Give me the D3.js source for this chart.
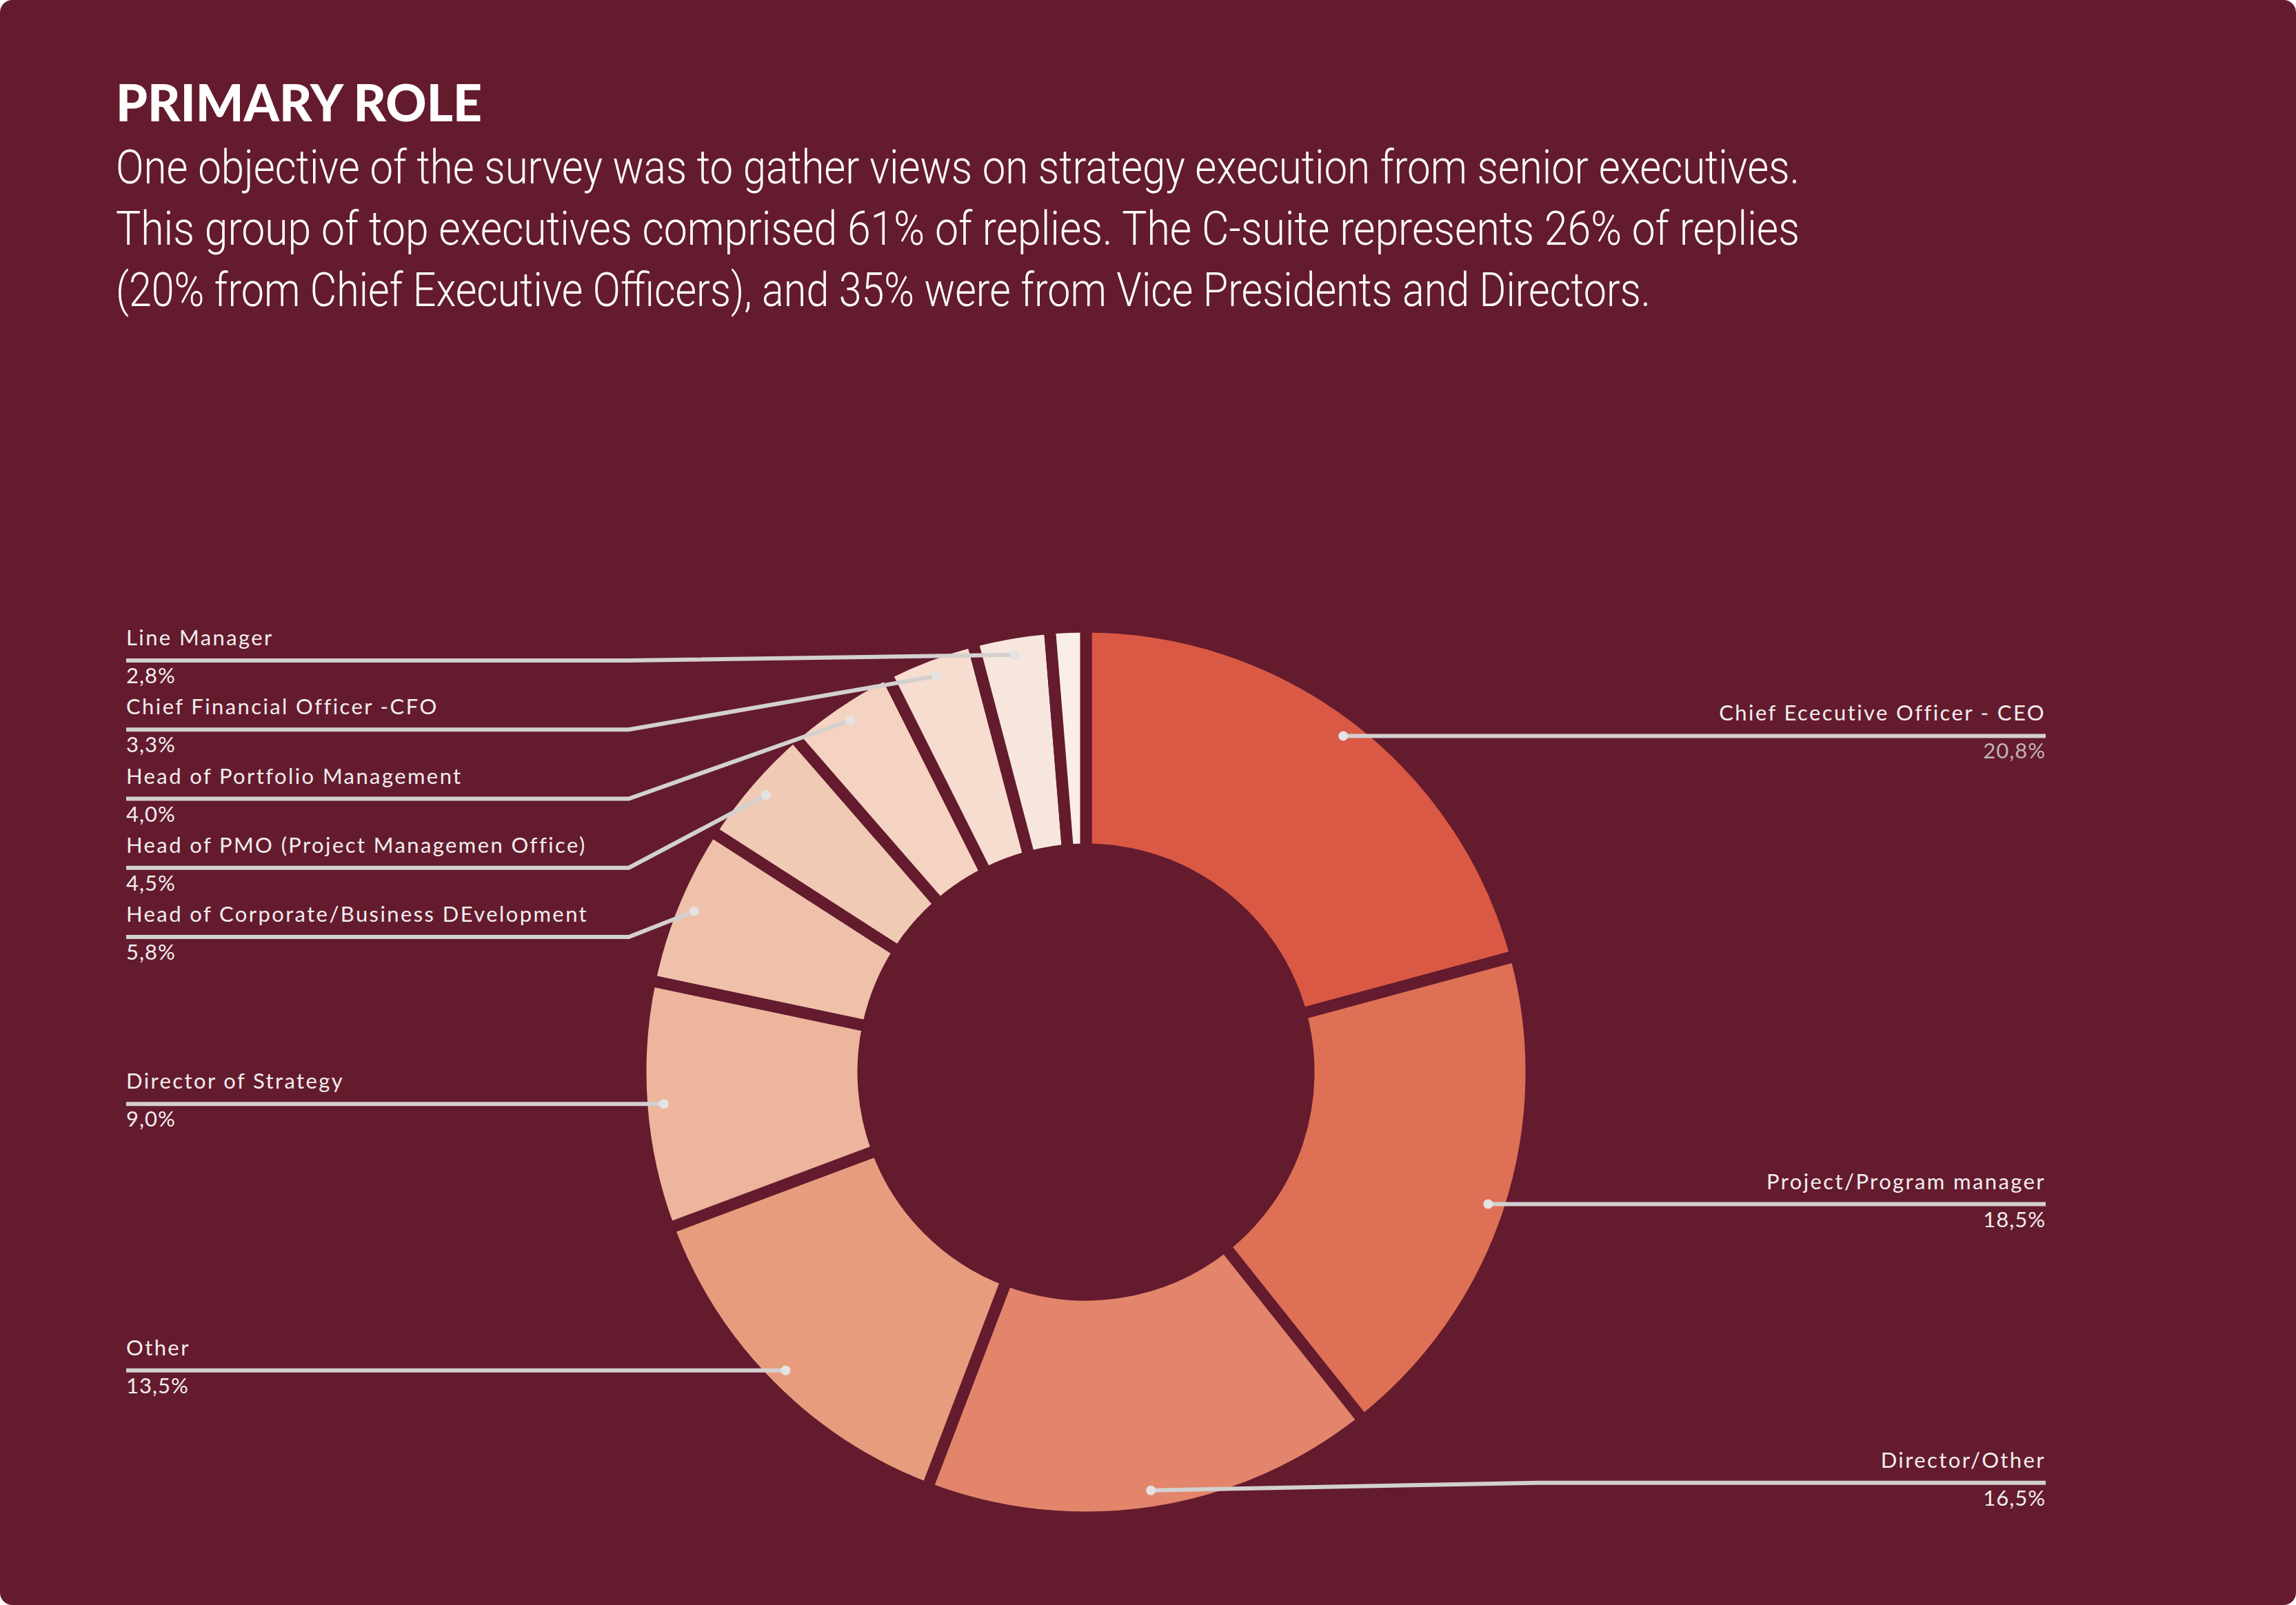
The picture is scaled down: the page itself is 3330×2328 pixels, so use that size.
<!DOCTYPE html>
<html>
<head>
<meta charset="utf-8">
<script src="https://cdn.jsdelivr.net/npm/d3@7"></script>
<style>
  body { margin:0; background:#ffffff; }
  svg { display:block; }
</style>
</head>
<body>
<svg id="chart"></svg>
<script>
var screen = {width:3330,height:2328}
var bg = "#641B2E"

// data (clockwise from 12 o'clock)
var roles = ["Chief Ececutive Officer - CEO","Project/Program manager","Director/Other","Other",
             "Director of Strategy","Head of Corporate/Business DEvelopment",
             "Head of PMO (Project Managemen Office)","Head of Portfolio Management",
             "Chief Financial Officer -CFO","Line Manager",""]
var shares = [20.8,18.5,16.5,13.5,9.0,5.8,4.5,4.0,3.3,2.8,1.3]
var sliceColors = ["#DA5944","#DE7055","#E3856B","#E89C7E","#ECB59C","#EFC1AA",
                   "#F1CAB5","#F4D3C2","#F6DDD0","#F7E6DD","#FAEEE8"]

var titleText = "PRIMARY ROLE"
var introLines = ["One objective of the survey was to gather views on strategy execution from senior executives.",
                  "This group of top executives comprised 61% of replies. The C-suite represents 26% of replies",
                  "(20% from Chief Executive Officers), and 35% were from Vice Presidents and Directors."]

var center = {x:1575,y:1555}
var radius = {outer:646,inner:323,dots:614}
var gap = 17

var fmt = function(v)
{
    return d3.format(".1f")(v).replace(".",",") + "%"
}

var svg = d3.select("#chart")
            .attr("width",screen.width)
            .attr("height",screen.height)

svg.append("rect")
   .attr("x",0).attr("y",0)
   .attr("width",screen.width).attr("height",screen.height)
   .attr("rx",18)
   .attr("fill",bg)

// heading
svg.append("text")
   .attr("x",168).attr("y",176)
   .attr("textLength",531)
   .attr("lengthAdjust","spacingAndGlyphs")
   .style("font-family","Lato")
   .style("font-weight",900)
   .style("font-size","74px")
   .attr("fill","#ffffff")
   .text(titleText)

var introWidths = [2442,2442,2226]
svg.selectAll(".intro")
   .data(introLines)
   .enter()
   .append("text")
   .classed("intro",true)
   .attr("x",168)
   .attr("y",function(d,i){return 266 + i*89})
   .attr("textLength",function(d,i){return introWidths[i]})
   .attr("lengthAdjust","spacingAndGlyphs")
   .style("font-family","Roboto")
   .style("font-weight",300)
   .style("font-size","68px")
   .attr("fill","#ffffff")
   .text(function(d){return d})

// donut
var pie = d3.pie().sort(null).value(function(d){return d})
var arcs = pie(shares)
var arc = d3.arc().innerRadius(radius.inner).outerRadius(radius.outer)

var donut = svg.append("g")
               .attr("id","donut")
               .attr("transform","translate("+center.x+","+center.y+")")

donut.selectAll("path")
     .data(arcs)
     .enter()
     .append("path")
     .attr("d",arc)
     .attr("fill",function(d,i){return sliceColors[i]})
     .attr("stroke",bg)
     .attr("stroke-width",gap)
     .attr("stroke-linejoin","miter")

// leader layout: side of the page and where the horizontal part sits
var leftX = 183, rightX = 2967, leftElbow = 912, rightElbow = 2230
var dotPos = function(d)
{
    var a = (d.startAngle + d.endAngle)/2
    return {x:center.x + radius.dots*Math.sin(a), y:center.y - radius.dots*Math.cos(a)}
}

var leaders = arcs.map(function(d,i)
{
    var p = dotPos(d)
    var side = p.x > center.x ? "right" : "left"
    var lineY = p.y
    var pts = []
    if (side == "right")
    {
        if (i == 2) { lineY = p.y - 11; pts = [[p.x,p.y],[rightElbow,lineY],[rightX,lineY]] }
        else { pts = [[p.x,p.y],[rightX,lineY]] }
    }
    else
    {
        if (i >= 5) { lineY = 1359 - (i-5)*100.25; pts = [[p.x,p.y],[leftElbow,lineY],[leftX,lineY]] }
        else { pts = [[p.x,p.y],[leftX,lineY]] }
    }
    return {name:roles[i],value:shares[i],side:side,lineY:lineY,pts:pts,dot:p}
}).filter(function(l){return l.name != ""})

var labels = svg.append("g").attr("id","labels")

labels.selectAll("polyline")
      .data(leaders)
      .enter()
      .append("polyline")
      .attr("points",function(l){return l.pts.map(function(p){return p.join(",")}).join(" ")})
      .attr("fill","none")
      .attr("stroke","#D3D0D0")
      .attr("stroke-width",6)

labels.selectAll("circle")
      .data(leaders)
      .enter()
      .append("circle")
      .attr("cx",function(l){return l.dot.x})
      .attr("cy",function(l){return l.dot.y})
      .attr("r",7)
      .attr("fill","#E4E2E2")

labels.selectAll(".name")
      .data(leaders)
      .enter()
      .append("text")
      .classed("name",true)
      .attr("x",function(l){return l.side=="right" ? rightX : leftX})
      .attr("y",function(l){return l.lineY - 22})
      .attr("text-anchor",function(l){return l.side=="right" ? "end" : "start"})
      .style("font-family","Lato")
      .style("font-size","31px")
      .style("letter-spacing","2.4px")
      .attr("fill","#F2EEEE")
      .text(function(l){return l.name})

labels.selectAll(".value")
      .data(leaders)
      .enter()
      .append("text")
      .classed("value",true)
      .attr("x",function(l){return l.side=="right" ? rightX : leftX})
      .attr("y",function(l){return l.lineY + 33})
      .attr("text-anchor",function(l){return l.side=="right" ? "end" : "start"})
      .style("font-family","Lato")
      .style("font-size","31px")
      .style("letter-spacing","1px")
      .attr("fill",function(l,i){return i==0 ? "#BFB3B6" : "#F2EEEE"})
      .text(function(l){return fmt(l.value)})
</script>
</body>
</html>
